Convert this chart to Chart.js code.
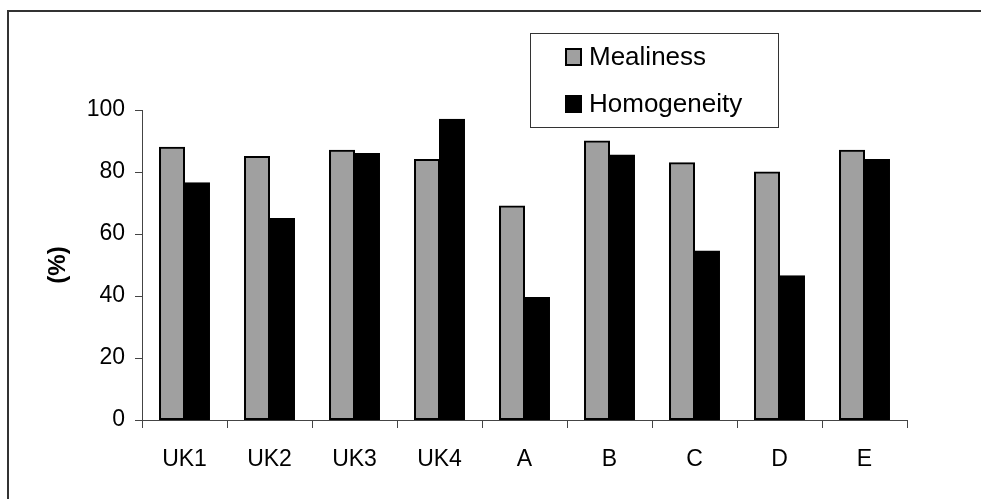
<!DOCTYPE html>
<html>
<head>
<meta charset="utf-8">
<script src="https://cdn.jsdelivr.net/npm/chart.js@4/dist/chart.umd.min.js"></script>
<style>
  html, body { margin: 0; padding: 0; background: #fff; overflow: hidden; }
  #wrap { position: relative; width: 981px; height: 499px; }
  #frame {
    position: absolute; left: 7px; top: 10px; right: -10px; bottom: -10px;
    border-left: 2px solid #333; border-top: 2px solid #333; pointer-events: none;
  }
  canvas { display: block; }
</style>
</head>
<body>
<div id="wrap">
  <canvas id="chart" width="981" height="499"></canvas>
  <div id="frame"></div>
</div>
<script>
// Potato samples and their scores (%)
const categories = ['UK1', 'UK2', 'UK3', 'UK4', 'A', 'B', 'C', 'D', 'E'];
const mealiness = [88, 85, 87, 84, 69, 90, 83, 80, 87];
const homogeneity = [76.5, 65, 86, 97, 39.5, 85.5, 54.5, 46.5, 84];
const seriesNames = ['Mealiness', 'Homogeneity'];
const yTickValues = [0, 20, 40, 60, 80, 100];

const FONT = '"Liberation Sans", Arial, sans-serif';

// Boxed legend in the upper part of the plot
const boxLegend = {
  id: 'boxLegend',
  afterDraw(chart) {
    const ctx = chart.ctx;
    ctx.save();
    ctx.fillStyle = '#fff';
    ctx.fillRect(530, 33, 248, 94);
    ctx.strokeStyle = '#333';
    ctx.lineWidth = 1;
    ctx.strokeRect(530.5, 33.5, 248, 94);
    const rows = [57, 104];
    chart.data.datasets.forEach((ds, i) => {
      const cy = rows[i];
      ctx.fillStyle = ds.backgroundColor;
      ctx.fillRect(565, cy - 9, 17, 18);
      ctx.strokeStyle = '#000';
      ctx.lineWidth = 2;
      ctx.strokeRect(566, cy - 8, 15, 16);
      ctx.fillStyle = '#000';
      ctx.font = '26px ' + FONT;
      ctx.textBaseline = 'middle';
      ctx.textAlign = 'left';
      ctx.fillText(ds.label, 589, cy + 1);
    });
    ctx.restore();
  }
};

new Chart(document.getElementById('chart'), {
  type: 'bar',
  data: {
    labels: categories,
    datasets: [
      {
        label: seriesNames[0],
        data: mealiness,
        backgroundColor: '#a0a0a0',
        borderColor: '#000',
        borderWidth: 2,
        borderSkipped: false,
        inflateAmount: 0.5
      },
      {
        label: seriesNames[1],
        data: homogeneity,
        backgroundColor: '#000',
        borderColor: '#000',
        borderWidth: 2,
        borderSkipped: false,
        inflateAmount: 0.5
      }
    ]
  },
  options: {
    responsive: false,
    animation: false,
    devicePixelRatio: 1,
    layout: { padding: { top: 110, right: 74, bottom: 0, left: 0 } },
    datasets: { bar: { categoryPercentage: 0.588, barPercentage: 1 } },
    plugins: {
      legend: { display: false },
      tooltip: { enabled: false }
    },
    scales: {
      x: {
        offset: true,
        grid: {
          offset: true,
          drawOnChartArea: false,
          drawTicks: true,
          tickLength: 8,
          color: '#444',
          lineWidth: 1
        },
        border: { display: true, color: '#444', width: 1 },
        ticks: {
          color: '#000',
          font: { family: FONT, size: 23 },
          padding: 18,
          maxRotation: 0
        },
        afterFit(scale) { scale.height = 79; }
      },
      y: {
        min: 0,
        max: 100,
        afterBuildTicks(scale) { scale.ticks = yTickValues.map(v => ({ value: v })); },
        grid: {
          drawOnChartArea: false,
          drawTicks: true,
          tickLength: 7,
          color: '#444',
          lineWidth: 1
        },
        border: { display: true, color: '#444', width: 1 },
        ticks: {
          color: '#000',
          font: { family: FONT, size: 23 },
          padding: 10
        },
        title: {
          display: true,
          text: '(%)',
          color: '#000',
          font: { family: FONT, size: 24, weight: 'bold' },
          padding: { top: 44, bottom: 0 }
        },
        afterFit(scale) { scale.width = 142; }
      }
    }
  },
  plugins: [boxLegend]
});
</script>
</body>
</html>
